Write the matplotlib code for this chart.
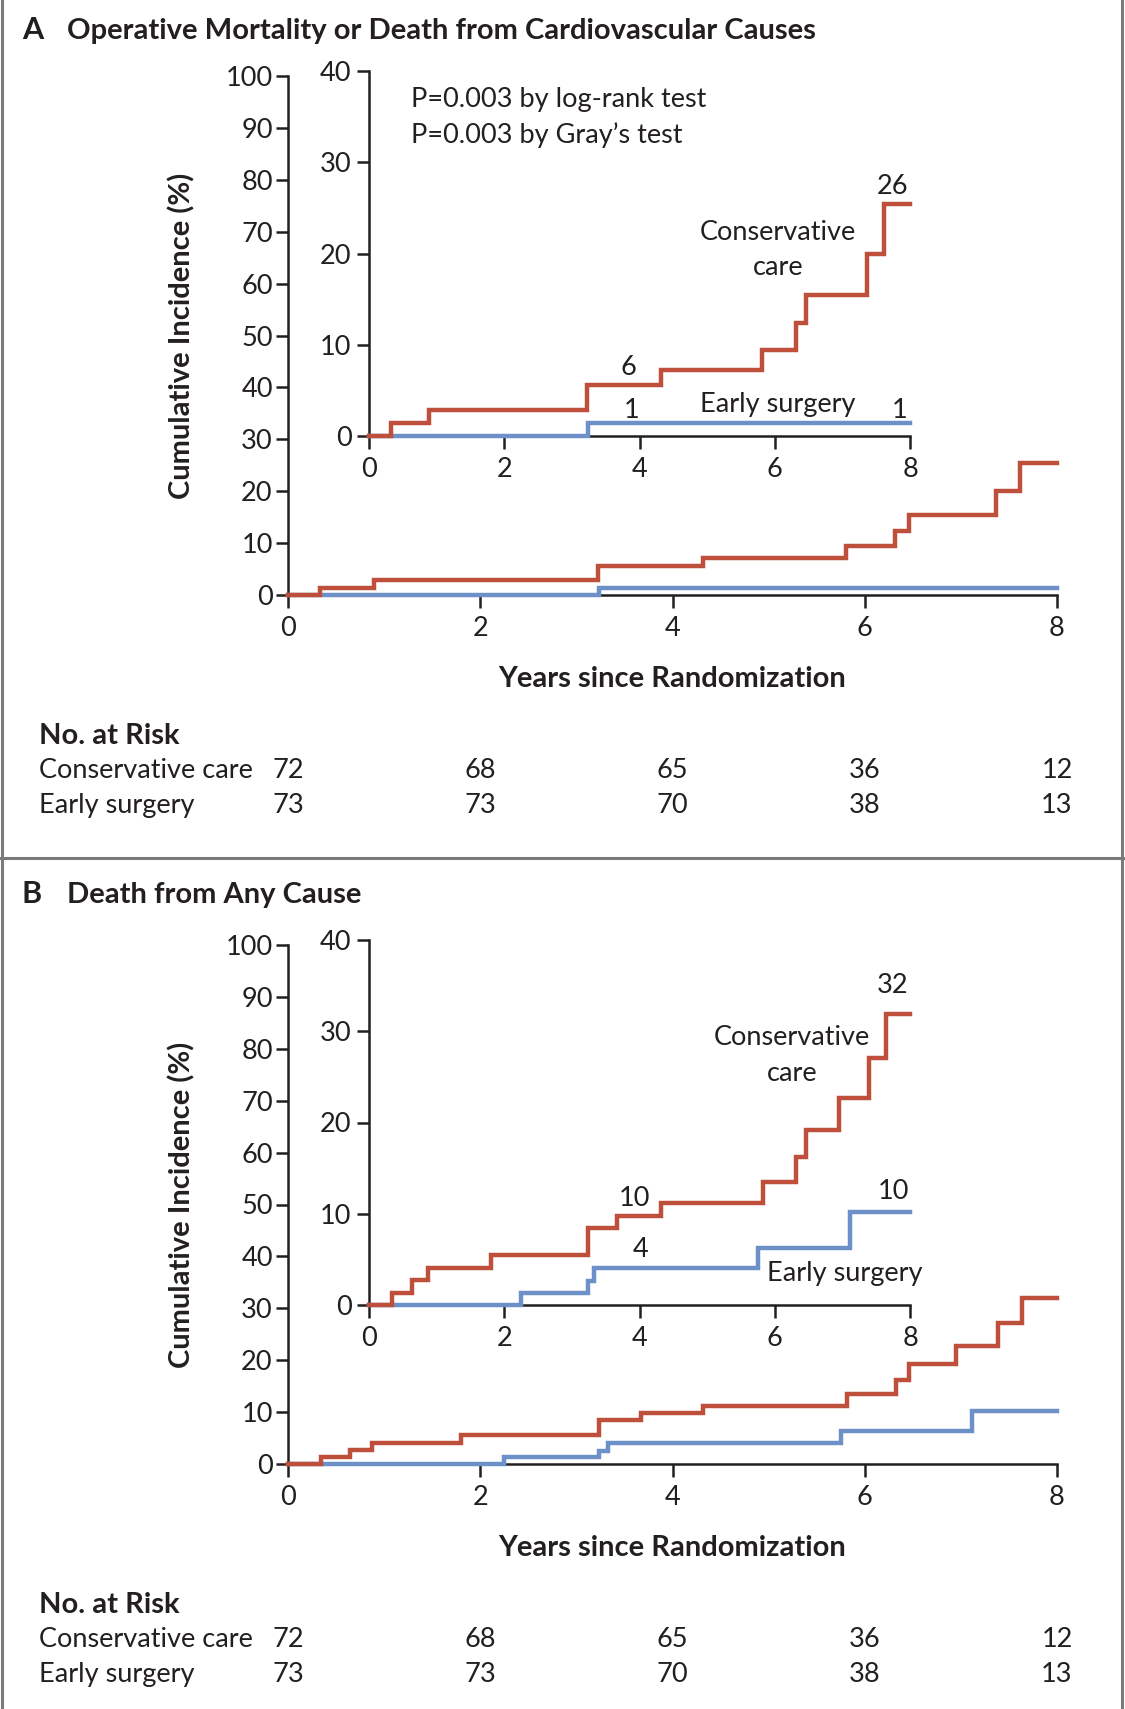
import matplotlib.pyplot as plt
from matplotlib.lines import Line2D
from matplotlib.transforms import blended_transform_factory

plt.rcParams['font.family'] = ['Lato', 'DejaVu Sans']

# figure size in pixels (dpi 100)
W, H = 1125, 1709

RED = '#BE4F3B'
BLUE = '#6C90C7'
INK = '#231F20'
BORDER = '#7A7A7A'
FS = 19.5      # regular text
FSB = 21       # bold headings

# data
years = [0, 2, 4, 6, 8]
risk_cons = [72, 68, 65, 36, 12]
risk_early = [73, 73, 70, 38, 13]

A_cons_t = [0, 0.33, 0.89, 3.23, 4.32, 5.81, 6.31, 6.46, 7.37, 7.62, 8.0]
A_cons_y = [0, 1.4, 2.8, 5.6, 7.2, 9.4, 12.4, 15.4, 20.0, 25.4, 25.4]
A_early_t = [0, 3.24, 8.0]
A_early_y = [0, 1.4, 1.4]

B_cons_t = [0, 0.34, 0.64, 0.87, 1.8, 3.24, 3.67, 4.32, 5.82, 6.32, 6.46, 6.95, 7.39, 7.64, 8.0]
B_cons_y = [0, 1.3, 2.7, 4.1, 5.5, 8.4, 9.8, 11.2, 13.5, 16.2, 19.2, 22.7, 27.1, 31.9, 31.9]
B_early_t = [0, 2.25, 3.24, 3.33, 5.75, 7.12, 8.0]
B_early_y = [0, 1.3, 2.6, 4.1, 6.3, 10.2, 10.2]


def box(l, t, r, b):
    # pixel box -> figure fraction
    return [l / W, 1 - b / H, (r - l) / W, (b - t) / H]


def fy(y):
    return 1 - y / H


def style_axes(ax, ylim, yticks, ypad):
    ax.set_facecolor('none')
    ax.set_xlim(0, 8)
    ax.set_ylim(*ylim)
    ax.set_xticks(years)
    ax.set_yticks(yticks)
    for s in ['top', 'right']:
        ax.spines[s].set_visible(False)
    for s in ['left', 'bottom']:
        ax.spines[s].set_linewidth(1.8)
        ax.spines[s].set_color(INK)
    ax.tick_params(axis='both', direction='out', length=9, width=1.8,
                   color=INK, labelcolor=INK, labelsize=FS)
    ax.tick_params(axis='y', pad=ypad)
    ax.tick_params(axis='x', pad=6)


def draw_curves(ax, ct, cy, et, ey):
    ax.plot(et, ey, drawstyle='steps-post', color=BLUE, lw=3.2,
            clip_on=False, zorder=3, solid_joinstyle='miter')
    ax.plot(ct, cy, drawstyle='steps-post', color=RED, lw=3.2,
            clip_on=False, zorder=4, solid_joinstyle='miter')


fig = plt.figure(figsize=(W / 100, H / 100), dpi=100)

panels = [
    (0, 'A', 'Operative Mortality or Death from Cardiovascular Causes',
     A_cons_t, A_cons_y, A_early_t, A_early_y),
    (869, 'B', 'Death from Any Cause',
     B_cons_t, B_cons_y, B_early_t, B_early_y),
]

insets = []
for dy, letter, title, ct, cy, et, ey in panels:
    tb = 39 if letter == 'A' else 903
    fig.text(22 / W, fy(tb), letter, fontsize=22, fontweight='bold',
             color=INK, va='baseline', ha='left')
    fig.text(67 / W, fy(tb), title, fontsize=FSB, fontweight='bold',
             color=INK, va='baseline', ha='left')

    # main axes
    ax = fig.add_axes(box(288, 76 + dy, 1057, 595 + dy))
    style_axes(ax, (0, 100), range(0, 101, 10), 2)
    draw_curves(ax, ct, cy, et, ey)

    fig.text(182 / W, fy(336 + dy), 'Cumulative Incidence (%)', rotation=90,
             fontsize=FSB, fontweight='bold', color=INK, ha='center', va='center')

    tr = blended_transform_factory(ax.transData, fig.transFigure)
    ax.text(4, fy(687 + dy), 'Years since Randomization', transform=tr,
            fontsize=FSB, fontweight='bold', color=INK, ha='center', va='baseline')

    # number at risk
    fig.text(39 / W, fy(744 + dy), 'No. at Risk', fontsize=FSB, fontweight='bold',
             color=INK, va='baseline')
    fig.text(39 / W, fy(778 + dy), 'Conservative care', fontsize=FS,
             color=INK, va='baseline')
    fig.text(39 / W, fy(813 + dy), 'Early surgery', fontsize=FS,
             color=INK, va='baseline')
    for x, a, b in zip(years, risk_cons, risk_early):
        ax.text(x, fy(778 + dy), str(a), transform=tr, fontsize=FS,
                color=INK, ha='center', va='baseline')
        ax.text(x, fy(813 + dy), str(b), transform=tr, fontsize=FS,
                color=INK, ha='center', va='baseline')

    # inset with 0-40 scale
    axi = fig.add_axes(box(369, 71 + dy, 910, 436 + dy))
    style_axes(axi, (0, 40), range(0, 41, 10), 3.5)
    draw_curves(axi, ct, cy, et, ey)
    insets.append(axi)

kw = dict(fontsize=FS, color=INK, va='baseline', ha='center')

# panel A labels
axi = insets[0]
axi.text(0.62, 36.1, 'P=0.003 by log-rank test', fontsize=FS, color=INK,
         va='baseline', ha='left')
axi.text(0.62, 32.1, 'P=0.003 by Gray\u2019s test', fontsize=FS, color=INK,
         va='baseline', ha='left')
axi.text(7.74, 26.5, '26', **kw)
axi.text(6.05, 21.5, 'Conservative', **kw)
axi.text(6.05, 17.65, 'care', **kw)
axi.text(3.83, 6.7, '6', **kw)
axi.text(3.89, 2.0, '1', **kw)
axi.text(6.05, 2.6, 'Early surgery', **kw)
axi.text(7.84, 2.0, '1', **kw)

# panel B labels
axi = insets[1]
axi.text(7.74, 34.2, '32', **kw)
axi.text(6.26, 28.5, 'Conservative', **kw)
axi.text(6.26, 24.6, 'care', **kw)
axi.text(3.92, 10.9, '10', **kw)
axi.text(4.02, 5.3, '4', **kw)
axi.text(7.75, 11.6, '10', **kw)
axi.text(7.04, 2.6, 'Early surgery', **kw)

# panel frame
fig.add_artist(Line2D([2 / W, 2 / W], [0, 1], color=BORDER, lw=2.2))
fig.add_artist(Line2D([1122 / W, 1122 / W], [0, 1], color=BORDER, lw=2.2))
fig.add_artist(Line2D([0, 1], [fy(858), fy(858)], color=BORDER, lw=2.2))

fig.savefig('out.png', dpi=100)
